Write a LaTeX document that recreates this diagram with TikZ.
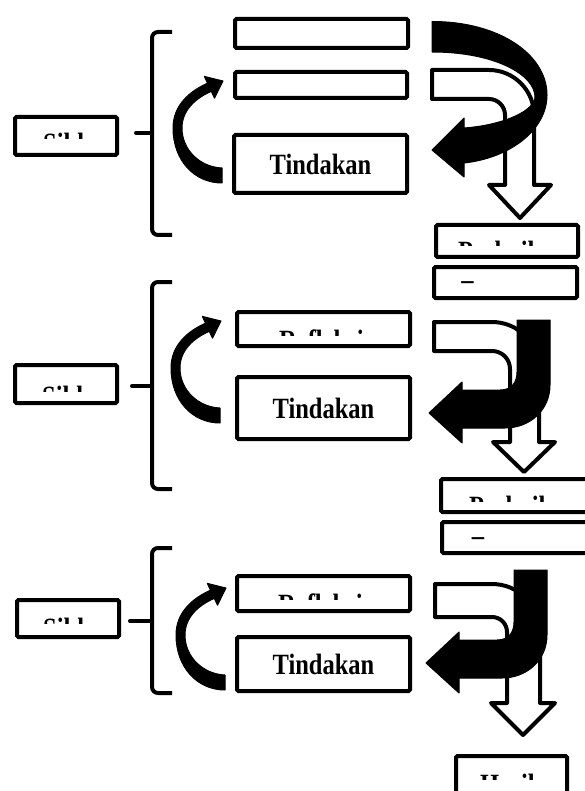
\documentclass[tikz,border=0pt]{standalone}
\usepackage{fontspec}
\setmainfont{Liberation Serif}
\usepackage{graphicx}
\newcommand{\tallt}[1]{\scalebox{1}[1.2]{#1}}
\begin{document}
\begin{tikzpicture}[x=1pt,y=-1pt,
  box/.style={draw=black,line width=4pt,rounded corners=1.5pt,fill=white,inner sep=0pt},
  lbl/.style={font=\fontsize{24.5}{29}\selectfont\bfseries,inner sep=0pt},
  blk/.style={fill=black,draw=black,line width=1pt,line join=round},
  wht/.style={fill=white,draw=black,line width=4pt,line join=round},
  brc/.style={draw=black,line width=4pt,rounded corners=6pt},
  tipl/.style={draw=black,line width=4pt,line cap=round},
  carrow/.pic={\filldraw[blk] (222,183) .. controls (194,183) and (173,160) .. (173,128)
      .. controls (173,105) and (190,91) .. (207.5,83.2) -- (204.3,76.4) -- (223,81)
      -- (214.5,98.2) -- (211.3,91.4) .. controls (196,98) and (182,110) .. (182,128)
      .. controls (182,150) and (200,167) .. (222,168) -- cycle;},
  jarrow/.pic={\filldraw[blk] (517,320) -- (517,372) .. controls (517,382) and (512,390) .. (500,390)
      -- (462,390) -- (462,382) -- (429,413) -- (462,443) -- (462,428) -- (505,428)
      .. controls (530,428) and (550,410) .. (550,385) -- (550,320) -- cycle;}
]
\fill[white] (0,0) rectangle (585,791);
\useasboundingbox (0,0) rectangle (585,791);

% ---------- section 1 ----------
\node[box,minimum width=102pt,minimum height=38pt] (s1) at (66,136) {};
\node[box,minimum width=173pt,minimum height=29pt] (b1a) at (321.5,33.5) {};
\node[box,minimum width=172pt,minimum height=26pt] (b1b) at (321,85) {};
\node[box,lbl,minimum width=173pt,minimum height=58pt] (t1) at (320.5,164) {\tallt{Tindakan}};
\node[box,minimum width=142pt,minimum height=32pt] (p1) at (507,241) {};
\node[box,minimum width=143pt,minimum height=31pt] (d1) at (505.5,282.5) {};

\begin{scope}
  \clip (15,117) rectangle (117,139);
  \node[lbl,anchor=base west] (s1t) at (43,154) {\tallt{Siklus}};
\end{scope}
\begin{scope}
  \clip (436,225) rectangle (578,246);
  \node[lbl,anchor=base west] (p1t) at (458,261.5) {\tallt{Perbaikan}};
\end{scope}
\node[lbl] (d1t) at (467.5,286) {\tallt{–}};

\draw[brc] (172,32) -- (152,32) -- (152,235) -- (172,235);
\draw[tipl] (152,133) -- (136,133);

\pic at (0,0) {carrow};

\filldraw[wht] (432,70) -- (489,70) .. controls (513.8,70) and (534,90.2) .. (534,115)
  -- (534,185) -- (551,185) -- (520,218) -- (489,185) -- (505,185) -- (505,115)
  .. controls (505,106.2) and (497.8,99) .. (489,99) -- (432,99) -- cycle;

\filldraw[blk] (432,21.5) .. controls (500,21.5) and (547,55) .. (547,95)
  .. controls (547,130) and (510,158) .. (464,163) -- (464,177) -- (432,150)
  -- (464,118) -- (464,128) .. controls (505,125) and (535,110) .. (535,97)
  .. controls (535,75) and (495,52) .. (432,52) -- cycle;

% ---------- section 2 ----------
\node[box,minimum width=102pt,minimum height=38pt] (s2) at (66,384) {};
\node[box,minimum width=173pt,minimum height=34pt] (r2) at (323.5,329) {};
\node[box,lbl,minimum width=173pt,minimum height=62pt] (t2) at (323.5,408) {\tallt{Tindakan}};
\node[box,minimum width=159pt,minimum height=33pt] (p2) at (520.5,495.5) {};
\node[box,minimum width=158pt,minimum height=31pt] (d2) at (521,537.5) {};

\begin{scope}
  \clip (15,365) rectangle (117,391);
  \node[lbl,anchor=base west] (s2t) at (42,406) {\tallt{Siklus}};
\end{scope}
\begin{scope}
  \clip (237,312) rectangle (410,335);
  \node[lbl,anchor=base west] (r2t) at (279,350.5) {\tallt{Refleksi}};
\end{scope}
\begin{scope}
  \clip (441,479) rectangle (600,501);
  \node[lbl,anchor=base west] (p2t) at (469,516.5) {\tallt{Perbaikan}};
\end{scope}
\node[lbl] (d2t) at (478,542) {\tallt{–}};

\draw[brc] (172,282) -- (152,282) -- (152,489) -- (172,489);
\draw[tipl] (152,386) -- (132,386);

\pic at (-2,240) {carrow};

\filldraw[wht] (434,322) -- (492,322) .. controls (518,322) and (539,343) .. (539,369)
  -- (539,442) -- (555,442) -- (524,472) -- (493,442) -- (510,442) -- (510,369)
  .. controls (510,359) and (502,351) .. (492,351) -- (434,351) -- cycle;

\pic at (0,0) {jarrow};

% ---------- section 3 ----------
\node[box,minimum width=102pt,minimum height=37pt] (s3) at (68,618.5) {};
\node[box,minimum width=173pt,minimum height=35pt] (r3) at (323.5,593.5) {};
\node[box,lbl,minimum width=173pt,minimum height=54pt] (t3) at (323.5,664) {\tallt{Tindakan}};
\node[box,minimum width=111pt,minimum height=54pt] (h) at (511.5,783) {};

\begin{scope}
  \clip (17,600) rectangle (119,623);
  \node[lbl,anchor=base west] (s3t) at (43,638) {\tallt{Siklus}};
\end{scope}
\begin{scope}
  \clip (237,576) rectangle (410,599);
  \node[lbl,anchor=base west] (r3t) at (278,614.5) {\tallt{Refleksi}};
\end{scope}
\begin{scope}
  \clip (456,756) rectangle (567,779);
  \node[lbl,anchor=base west] (ht) at (480,794.5) {\tallt{Hasil}};
\end{scope}

\draw[brc] (172,548) -- (152,548) -- (152,693) -- (172,693);
\draw[tipl] (152,621) -- (130,621);

\pic at (3,507) {carrow};

\filldraw[wht] (435,584) -- (492,584) .. controls (518.5,584) and (540,605.5) .. (540,632)
  -- (540,703) -- (555,703) -- (523,735) -- (491,703) -- (507,703) -- (507,632)
  .. controls (507,623.7) and (500.3,617) .. (492,617) -- (435,617) -- cycle;

\pic at (-3,250) {jarrow};
\end{tikzpicture}
\end{document}
